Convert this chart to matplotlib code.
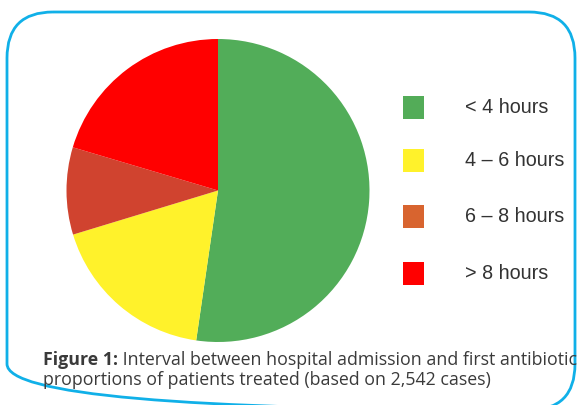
import matplotlib
matplotlib.use("Agg")
import matplotlib.pyplot as plt
from matplotlib.patches import FancyBboxPatch, Rectangle

# shares of patients (percent)
labels = ['< 4 hours', '4 – 6 hours', '6 – 8 hours', '> 8 hours']
shares = [52.3, 18.0, 9.3, 20.4]
slice_colors = ['#52ad59', '#fff22b', '#d0432f', '#ff0000']
legend_colors = ['#53ac58', '#fff22b', '#d8642f', '#ff0000']

caption_bold = 'Figure 1:'
caption_line1 = ' Interval between hospital admission and first antibiotic'
caption_line2 = 'proportions of patients treated (based on 2,542 cases)'

W, H = 577, 405
fig = plt.figure(figsize=(W / 100, H / 100), dpi=100)

# overlay in pixel coords (y down) for the frame, legend and caption
over = fig.add_axes([0, 0, 1, 1])
over.set_xlim(0, W)
over.set_ylim(H, 0)
over.axis('off')

frame = FancyBboxPatch((7 + 46, 12 + 46), 568 - 92, 398 - 92,
                       boxstyle='round,pad=46', fc='none', ec='#10b0e8', lw=2.0)
over.add_patch(frame)

# pie
cx, cy, r = 218, 190.5, 151.5
ax = fig.add_axes([(cx - r) / W, (H - cy - r) / H, 2 * r / W, 2 * r / H])
ax.pie(shares, colors=slice_colors, startangle=90, counterclock=False,
       radius=1.0, wedgeprops=dict(linewidth=0))
ax.set_xlim(-1, 1)
ax.set_ylim(-1, 1)
ax.set_aspect('equal')
ax.axis('off')

# legend
sq_y = [107.5, 160.3, 216.3, 273.2]
for lab, col, y in zip(labels, legend_colors, sq_y):
    over.add_patch(Rectangle((402.7, y - 11.2), 21.5, 22.5, fc=col, ec='none'))
    over.text(465, y, lab, fontsize=14.2, family='Liberation Sans',
              color='#333333', va='center', ha='left')

# caption: fit font size to the width of line 2
fig.canvas.draw()
ren = fig.canvas.get_renderer()
probe = over.text(43, 385, caption_line2, fontsize=11, family='Open Sans', color='#3a3a3a')
w = probe.get_window_extent(ren).width
fs = 11 * 450 / w
probe.set_fontsize(fs)

b = over.text(43, 365, caption_bold, fontsize=fs, family='Open Sans',
              weight='bold', color='#3a3a3a')
bw = b.get_window_extent(ren).width
over.text(43 + bw, 365, caption_line1, fontsize=fs, family='Open Sans', color='#3a3a3a')

fig.savefig('out.png', dpi=100)
